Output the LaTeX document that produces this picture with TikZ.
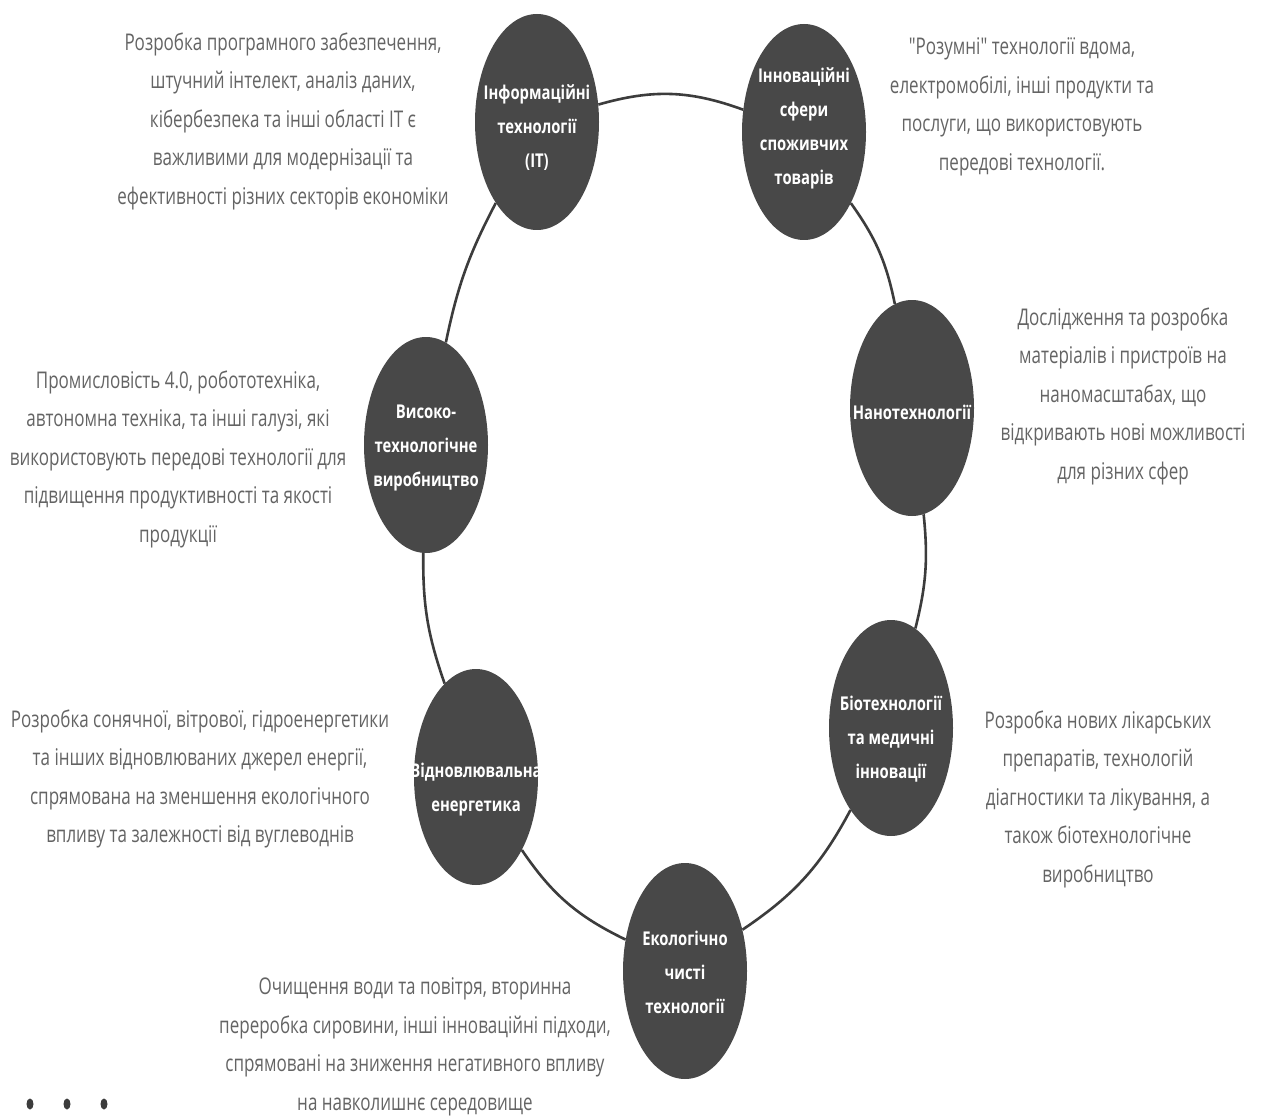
\documentclass[tikz,border=0pt]{standalone}
\usepackage{fontspec}
\setmainfont{Open Sans}
\newfontfamily\cond[FakeStretch=0.74]{Open Sans}
\newfontfamily\condb[FakeStretch=0.78]{Open Sans}
\usetikzlibrary{shapes.geometric}
\definecolor{bubfill}{RGB}{72,72,72}
\definecolor{ringc}{RGB}{60,60,60}
\definecolor{txtc}{RGB}{100,100,100}
\begin{document}
\begin{tikzpicture}[x=1pt,y=1pt,
  bub/.style={ellipse, fill=bubfill, minimum width=124pt, minimum height=216pt, inner sep=0pt},
  blab/.style={text=white, font=\condb\bfseries\fontsize{19pt}{34pt}\selectfont, align=center, inner sep=0pt},
  desc/.style={text=txtc, font=\cond\fontsize{23pt}{38.5pt}\selectfont, align=center, inner sep=0pt},
  ring/.style={draw=ringc, line width=2.6pt},
  dot/.style={ellipse, fill=ringc, minimum width=7pt, minimum height=11pt, inner sep=0pt}]
\fill[white] (0,0) rectangle (1264,-1118);
\useasboundingbox (0,0) rectangle (1264,-1118);

\node[bub] (it) at (537,-122) {};
\node[bub] (cons) at (804,-132) {};
\node[bub] (nano) at (912,-408) {};
\node[bub] (bio) at (891,-728) {};
\node[bub] (eco) at (685,-971) {};
\node[bub] (ren) at (476,-777) {};
\node[bub] (ht) at (426,-445) {};

\draw[ring] (it) to[bend left=18] (cons);
\draw[ring] (cons) to[bend left=12] (nano);
\draw[ring] (nano) to[bend left=10] (bio);
\draw[ring] (bio) to[bend left=14] (eco);
\draw[ring] (eco) to[bend left=15] (ren);
\draw[ring] (ren) to[bend left=10] (ht);
\draw[ring] (ht) to[bend left=8] (it);

\node[blab] (it-t) at (537,-128) {Інформаційні\\технології\\(IT)};
\node[blab] (cons-t) at (804,-128) {Інноваційні\\сфери\\споживчих\\товарів};
\node[blab] (nano-t) at (912,-412) {Нанотехнології};
\node[blab] (ht-t) at (426,-448) {Високо-\\технологічне\\виробництво};
\node[blab] (bio-t) at (891,-739) {Біотехнології\\та медичні\\інновації};
\node[blab] (ren-t) at (476,-790) {Відновлювальна\\енергетика};
\node[blab] (eco-t) at (685,-972) {Екологічно\\чисті\\технології};

\node[desc] (d-it) at (283,-121) {Розробка програмного забезпечення,\\штучний інтелект, аналіз даних,\\кібербезпека та інші області IT є\\важливими для модернізації та\\ефективності різних секторів економіки};
\node[desc] (d-cons) at (1022,-107) {"Розумні" технології вдома,\\електромобілі, інші продукти та\\послуги, що використовують\\передові технології.};
\node[desc] (d-nano) at (1123,-396) {Дослідження та розробка\\матеріалів і пристроїв на\\наномасштабах, що\\відкривають нові можливості\\для різних сфер};
\node[desc] (d-ht) at (178,-459) {Промисловість 4.0, робототехніка,\\автономна техніка, та інші галузі, які\\використовують передові технології для\\підвищення продуктивності та якості\\продукції};
\node[desc] (d-bio) at (1098,-799) {Розробка нових лікарських\\препаратів, технологій\\діагностики та лікування, а\\також біотехнологічне\\виробництво};
\node[desc] (d-ren) at (200,-779) {Розробка сонячної, вітрової, гідроенергетики\\та інших відновлюваних джерел енергії,\\спрямована на зменшення екологічного\\впливу та залежності від вуглеводнів};
\node[desc] (d-eco) at (415,-1047) {Очищення води та повітря, вторинна\\переробка сировини, інші інноваційні підходи,\\спрямовані на зниження негативного впливу\\на навколишнє середовище};

\node[dot] (dot1) at (30,-1104) {};
\node[dot] (dot2) at (67,-1104) {};
\node[dot] (dot3) at (104,-1104) {};
\end{tikzpicture}
\end{document}
